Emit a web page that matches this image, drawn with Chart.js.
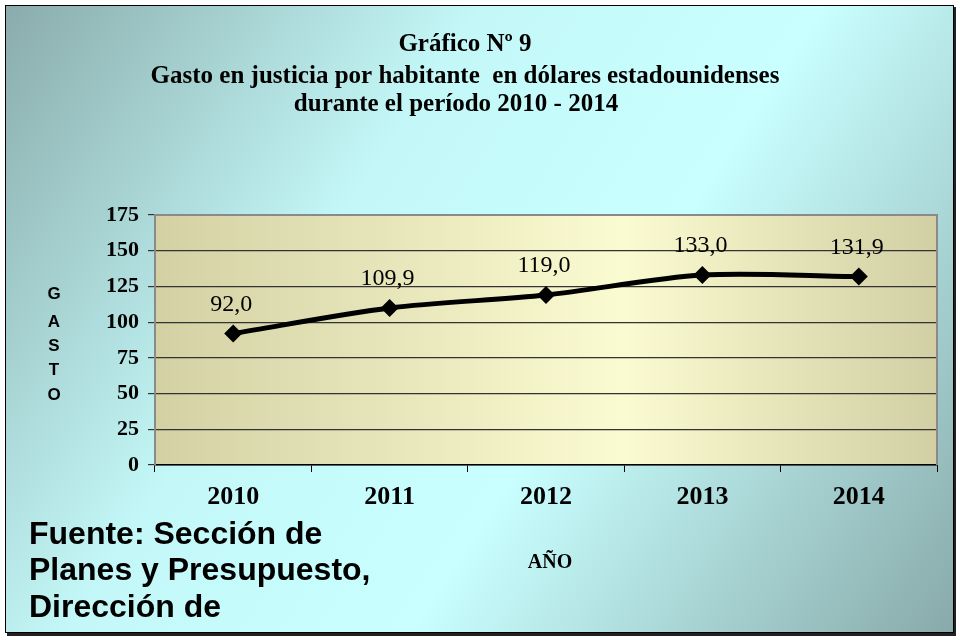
<!DOCTYPE html>
<html>
<head>
<meta charset="utf-8">
<script src="https://cdn.jsdelivr.net/npm/chart.js@4"></script>
<style>
  html, body { margin: 0; padding: 0; background: #fff; }
  #wrap { width: 960px; height: 640px; }
</style>
</head>
<body>
<div id="wrap"><canvas id="gastoChart" width="960" height="640"></canvas></div>
<script>
const years = ["2010", "2011", "2012", "2013", "2014"];
const gasto = [92.0, 109.9, 119.0, 133.0, 131.9];
const yTicks = [0, 25, 50, 75, 100, 125, 150, 175];

const titleLines = [
  "Gráfico Nº 9",
  "Gasto en justicia por habitante  en dólares estadounidenses",
  "durante el período 2010 - 2014",
];
const yTitle = ["G", "A", "S", "T", "O"];
const xTitle = "AÑO";
const sourceLines = ["Fuente: Sección de", "Planes y Presupuesto,", "Dirección de"];

const serif = "'Liberation Serif', 'Times New Roman', serif";
const sans = "'Liberation Sans', Arial, sans-serif";
const fmt = (v) => v.toFixed(1).replace(".", ",");

// background, frame, plot fill and the free text
const backdrop = {
  id: "backdrop",
  beforeDraw(chart) {
    const c = chart.ctx;
    const a = chart.chartArea;
    c.save();
    c.fillStyle = "#fff";
    c.fillRect(0, 0, chart.width, chart.height);

    const bg = c.createLinearGradient(5, 5, 955, 633);
    bg.addColorStop(0, "#8aabab");
    bg.addColorStop(0.35, "#c4f8f8");
    bg.addColorStop(0.6, "#c9ffff");
    bg.addColorStop(1, "#88a9a9");
    c.fillStyle = bg;
    c.fillRect(5, 5, 949, 628);

    c.fillStyle = "#222";
    c.fillRect(7, 633, 949, 3);
    c.fillRect(954, 7, 2, 629);
    c.strokeStyle = "#000";
    c.lineWidth = 1;
    c.strokeRect(5.5, 5.5, 948, 627);

    const pg = c.createLinearGradient(a.left, 0, a.right, 0);
    pg.addColorStop(0, "#d3d1a4");
    pg.addColorStop(0.6, "#fbfbd1");
    pg.addColorStop(1, "#d1cfa3");
    c.fillStyle = pg;
    c.fillRect(a.left, a.top, a.right - a.left, a.bottom - a.top);
    c.restore();
  },
  afterDatasetsDraw(chart) {
    const c = chart.ctx;
    const a = chart.chartArea;
    c.save();
    c.strokeStyle = "#8a8a8a";
    c.lineWidth = 2;
    c.beginPath();
    c.moveTo(a.left, a.bottom);
    c.lineTo(a.left, a.top);
    c.lineTo(a.right, a.top);
    c.lineTo(a.right, a.bottom);
    c.stroke();

    // value labels
    const meta = chart.getDatasetMeta(0);
    c.fillStyle = "#000";
    c.font = "24px " + serif;
    c.textAlign = "center";
    c.textBaseline = "middle";
    meta.data.forEach((pt, i) => {
      c.fillText(fmt(gasto[i]), pt.x - 2, pt.y - 29);
    });

    c.font = "bold 25px " + serif;
    c.fillText(titleLines[0], 465, 45);
    c.fillText(titleLines[1], 465, 77);
    c.fillText(titleLines[2], 456, 105);

    c.font = "bold 17px " + sans;
    const ys = [294, 322, 346, 370, 395];
    yTitle.forEach((ch, i) => c.fillText(ch, 54, ys[i]));

    c.font = "bold 20px " + serif;
    c.fillText(xTitle, 550, 563);

    c.font = "bold 32px " + sans;
    c.textAlign = "left";
    sourceLines.forEach((ln, i) => c.fillText(ln, 29, 535 + i * 36.5));
    c.restore();
  },
};

new Chart(document.getElementById("gastoChart"), {
  type: "line",
  data: {
    labels: years,
    datasets: [
      {
        data: gasto,
        borderColor: "#000",
        backgroundColor: "#000",
        borderWidth: 5,
        tension: 0.3,
        pointStyle: "rectRot",
        pointRadius: 9,
        pointHoverRadius: 9,
        pointBorderWidth: 0,
      },
    ],
  },
  options: {
    responsive: false,
    animation: false,
    layout: { padding: { left: 0, right: 23, top: 215, bottom: 135 } },
    plugins: {
      legend: { display: false },
      title: { display: false },
      tooltip: { enabled: false },
    },
    scales: {
      x: {
        offset: true,
        border: { color: "#000", width: 1.5 },
        grid: {
          offset: true,
          drawOnChartArea: false,
          drawTicks: true,
          tickLength: 7,
          color: "#000",
        },
        ticks: {
          color: "#000",
          padding: 10,
          font: { family: serif, size: 26, weight: "bold" },
        },
        afterFit(scale) {
          scale.height = 40;
        },
      },
      y: {
        min: 0,
        max: 175,
        border: { color: "#8a8a8a", width: 2 },
        grid: { color: "#333", lineWidth: 1.2, tickLength: 7, drawTicks: true },
        afterBuildTicks(scale) {
          scale.ticks = yTicks.map((v) => ({ value: v }));
        },
        ticks: {
          color: "#000",
          padding: 9,
          font: { family: serif, size: 22, weight: "bold" },
        },
        afterFit(scale) {
          scale.width = 155;
        },
      },
    },
  },
  plugins: [backdrop],
});
</script>
</body>
</html>
